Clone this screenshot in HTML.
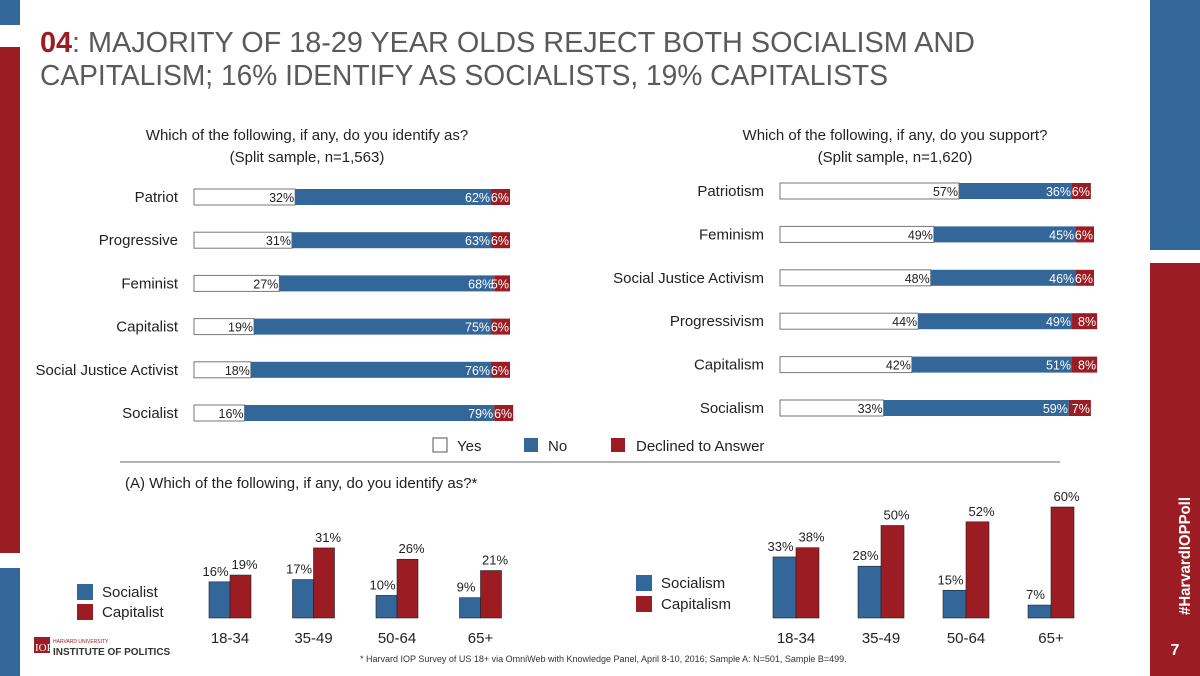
<!DOCTYPE html>
<html><head><meta charset="utf-8">
<style>
body{margin:0;background:#fff;}
svg{display:block;font-family:"Liberation Sans",sans-serif;}
</style></head>
<body>
<svg id="s" width="1200" height="676" viewBox="0 0 1200 676" xmlns="http://www.w3.org/2000/svg">
<rect x="0" y="0" width="20" height="25" fill="#336699"/>
<rect x="0" y="47" width="20" height="506" fill="#9b1c22"/>
<rect x="0" y="568" width="20" height="108" fill="#336699"/>
<rect x="1150" y="0" width="50" height="250" fill="#336699"/>
<rect x="1150" y="263" width="50" height="413" fill="#9b1c22"/>
<text transform="translate(1190,615) rotate(-90)" fill="#fff" font-size="16" font-weight="bold" textLength="118" lengthAdjust="spacingAndGlyphs">#HarvardIOPPoll</text>
<text x="1175" y="655" fill="#fff" font-size="16" font-weight="bold" text-anchor="middle">7</text>
<text x="40" y="52" font-size="29" fill="#5a5a5a" textLength="935" lengthAdjust="spacingAndGlyphs"><tspan fill="#9b1c22" font-weight="bold">04</tspan>: MAJORITY OF 18-29 YEAR OLDS REJECT BOTH SOCIALISM AND</text>
<text x="40" y="85" font-size="29" fill="#5a5a5a" textLength="848" lengthAdjust="spacingAndGlyphs">CAPITALISM; 16% IDENTIFY AS SOCIALISTS, 19% CAPITALISTS</text>
<text x="307" y="140" font-size="15" fill="#222" text-anchor="middle">Which of the following, if any, do you identify as?</text>
<text x="307" y="162" font-size="15" fill="#222" text-anchor="middle">(Split sample, n=1,563)</text>
<text x="895" y="140" font-size="15" fill="#222" text-anchor="middle">Which of the following, if any, do you support?</text>
<text x="895" y="162" font-size="15" fill="#222" text-anchor="middle">(Split sample, n=1,620)</text>
<rect x="433" y="438" width="14" height="14" fill="#fff" stroke="#555"/>
<text x="457" y="451" font-size="15" fill="#222">Yes</text>
<rect x="524" y="438" width="14" height="14" fill="#336699"/>
<text x="548" y="451" font-size="15" fill="#222">No</text>
<rect x="611" y="438" width="14" height="14" fill="#9b1c22"/>
<text x="636" y="451" font-size="15" fill="#222">Declined to Answer</text>
<line x1="120" y1="462" x2="1060" y2="462" stroke="#666" stroke-width="1"/>
<text x="125" y="488" font-size="15" fill="#222">(A) Which of the following, if any, do you identify as?*</text>
<rect x="77" y="584" width="16" height="16" fill="#336699"/>
<text x="102" y="597" font-size="15" fill="#222">Socialist</text>
<rect x="77" y="604" width="16" height="16" fill="#9b1c22"/>
<text x="102" y="617" font-size="15" fill="#222">Capitalist</text>
<rect x="636" y="575" width="16" height="16" fill="#336699"/>
<text x="661" y="588" font-size="15" fill="#222">Socialism</text>
<rect x="636" y="596" width="16" height="16" fill="#9b1c22"/>
<text x="661" y="609" font-size="15" fill="#222">Capitalism</text>
<rect x="34" y="637" width="16" height="16" fill="#9b1c22"/>
<text x="35" y="651" font-size="11" fill="#fff" font-family="Liberation Serif,serif">IOP</text>
<text x="53" y="643" font-size="5" fill="#9b1c22">HARVARD UNIVERSITY</text>
<text x="53" y="655" font-size="10" fill="#333" font-weight="bold">INSTITUTE OF POLITICS</text>
<text x="360" y="662" font-size="9" fill="#333">* Harvard IOP Survey of US 18+ via OmniWeb with Knowledge Panel, April 8-10, 2016; Sample A: N=501, Sample B=499.</text>
<g id="charts"></g>
</svg>
<script>
const identifyCats = ["Patriot","Progressive","Feminist","Capitalist","Social Justice Activist","Socialist"];
const identifyYes = [32,31,27,19,18,16];
const identifyNo = [62,63,68,75,76,79];
const identifyDeclined = [6,6,5,6,6,6];
const supportCats = ["Patriotism","Feminism","Social Justice Activism","Progressivism","Capitalism","Socialism"];
const supportYes = [57,49,48,44,42,33];
const supportNo = [36,45,46,49,51,59];
const supportDeclined = [6,6,6,8,8,7];
const ageCats = ["18-34","35-49","50-64","65+"];
const socialistVals = [16,17,10,9];
const capitalistVals = [19,31,26,21];
const socialismVals = [33,28,15,7];
const capitalismVals = [38,50,52,60];

const NS="http://www.w3.org/2000/svg";
const g=document.getElementById('charts');
const BLUE="#336699", RED="#9b1c22";
function mk(tag,attrs,text){const e=document.createElementNS(NS,tag);for(const k in attrs)e.setAttribute(k,attrs[k]);if(text!==undefined)e.textContent=text;g.appendChild(e);return e;}

function stacked(prefix,cats,yes,no,dec,x0,width,y0,step){
  const sx=v=>v/100*width;
  cats.forEach((c,i)=>{
    const yc=y0+i*step, y=yc-8;
    let t=mk('text',{x:x0-16,y:yc+5,'font-size':15,fill:'#222','text-anchor':'end'},c);
    
    
    const segs=[[yes[i],'#fff','#222'],[no[i],BLUE,'#fff'],[dec[i],RED,'#fff']];
    let x=x0;
    segs.forEach((s,j)=>{
      const w=sx(s[0]);
      let r=mk('rect',{x:x,y:y,width:w,height:16,fill:s[1],stroke:j==0?'#777':'none'});
      
      
      let l=mk('text',{x:x+w-1,y:yc+5,'font-size':12.5,fill:s[2],'text-anchor':'end'},s[0]+'%');
      
      
      x+=w;
    });
  });
}
stacked('identify',identifyCats,identifyYes,identifyNo,identifyDeclined,194,316,197,43.2);
stacked('support',supportCats,supportYes,supportNo,supportDeclined,780,314,191,43.4);

function grouped(prefix,cats,a,b,x0,step,bw,base,scale){
  cats.forEach((c,i)=>{
    const x=x0+i*step;
    [[a[i],BLUE],[b[i],RED]].forEach((s,j)=>{
      const h=s[0]*scale;
      let r=mk('rect',{x:x+j*bw,y:base-h,width:bw,height:h,fill:s[1],stroke:'#222','stroke-width':0.6});
      
      
      let l=mk('text',{x:x+j*bw+bw/2+(j?4:-4),y:base-h-6,'font-size':13,fill:'#222','text-anchor':'middle'},s[0]+'%');
      
      
    });
    let t=mk('text',{x:x+bw,y:base+25,'font-size':15,fill:'#222','text-anchor':'middle'},c);
    
    
  });
}
grouped('identify-age',ageCats,socialistVals,capitalistVals,209,83.5,21,618,2.26);
grouped('support-age',ageCats,socialismVals,capitalismVals,773,85,23,618,1.85);
</script>
</body></html>
